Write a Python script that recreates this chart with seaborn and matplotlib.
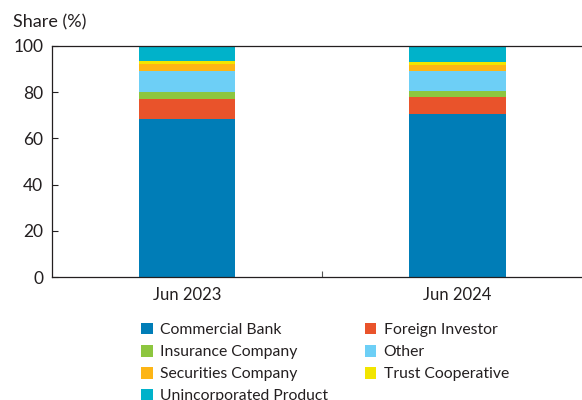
import numpy as np
import pandas as pd
import matplotlib
matplotlib.use("Agg")
import matplotlib.pyplot as plt
import seaborn as sns
from matplotlib.patches import Patch

periods = ["Jun 2023", "Jun 2024"]
categories = ["Commercial Bank", "Foreign Investor", "Insurance Company", "Other",
              "Securities Company", "Trust Cooperative", "Unincorporated Product"]
commercial_bank = [68.3, 70.6]
foreign_investor = [8.6, 7.25]
insurance_company = [3.2, 2.55]
other = [9.0, 8.7]
securities_company = [3.0, 2.6]
trust_cooperative = [1.3, 1.4]
unincorporated_product = [6.6, 6.9]
yticks = [0, 20, 40, 60, 80, 100]

colors = ["#007DB7", "#E9532B", "#8DC63F", "#6DCFF6", "#FDB515", "#F2E500", "#00B2CA"]

series = [commercial_bank, foreign_investor, insurance_company, other,
          securities_company, trust_cooperative, unincorporated_product]

sns.set_theme(style="white")
plt.rcParams["font.family"] = ["Lato", "DejaVu Sans"]

fig = plt.figure(figsize=(5.82, 4.0), dpi=100)
ax = fig.add_axes([51.7 / 582, 122.7 / 400, 541.0 / 582, 231.6 / 400])

cum = np.cumsum(np.array(series), axis=0)
df_rows = []
for i, cat in enumerate(categories):
    for j, p in enumerate(periods):
        df_rows.append({"period": p, "category": cat, "top": cum[i, j]})
df = pd.DataFrame(df_rows)

for i in reversed(range(len(categories))):
    sub = df[df["category"] == categories[i]]
    sns.barplot(data=sub, x="period", y="top", color=colors[i], width=0.358,
                saturation=1, ax=ax, order=periods, linewidth=0)

ax.set_xlim(-0.5, 1.5)
ax.set_ylim(0, 100)
ax.set_yticks(yticks)
ax.set_ylabel("")
ax.set_xlabel("")

for s in ["left", "bottom", "top"]:
    ax.spines[s].set_visible(True)
    ax.spines[s].set_color("#231F20")
    ax.spines[s].set_linewidth(0.9)
ax.spines["right"].set_visible(False)

ax.tick_params(axis="y", direction="in", length=4, width=0.8, color="#231F20",
               labelsize=12.5, labelcolor="#231F20", pad=6, left=True)
ax.tick_params(axis="x", which="major", length=0, labelsize=12, labelcolor="#231F20", pad=7)
ax.set_xticks([0.5], minor=True)
ax.tick_params(axis="x", which="minor", direction="in", length=4, width=0.8,
               color="#555555", bottom=True)

fig.text(13 / 582, 1 - 22 / 400, "Share (%)", fontsize=13, color="#231F20",
         va="center", ha="left")

order = [0, 2, 4, 6, 1, 3, 5]
handles = [Patch(facecolor=colors[k], edgecolor="none") for k in order]
labels = [categories[k] for k in order]
fig.legend(handles, labels, loc="upper left", bbox_to_anchor=(141 / 582, 1 - 323 / 400),
           ncol=2, frameon=False, fontsize=11.3, handlelength=0.75, handleheight=0.75,
           handletextpad=0.45, columnspacing=2.35, labelspacing=0.5, borderaxespad=0,
           borderpad=0, labelcolor="#231F20")

fig.savefig("out.png", dpi=100)
